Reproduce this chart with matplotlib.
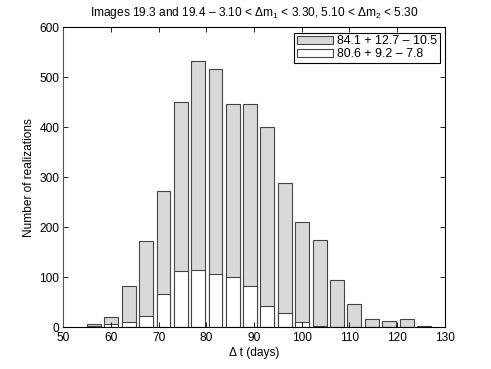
import matplotlib
matplotlib.use("Agg")
import matplotlib.pyplot as plt

plt.rcParams['font.family'] = ['Liberation Sans', 'DejaVu Sans']
plt.rcParams['mathtext.fontset'] = 'custom'
plt.rcParams['mathtext.rm'] = 'Liberation Sans'
plt.rcParams['mathtext.it'] = 'Liberation Sans'
plt.rcParams['font.size'] = 8.6

# bin centres (days) and counts
bin_centers = [56.4, 60.0, 63.7, 67.3, 71.0, 74.6, 78.2, 81.9, 85.5, 89.2,
               92.8, 96.5, 100.1, 103.8, 107.4, 111.0, 114.7, 118.3, 122.0, 125.6]
counts_all = [7, 20, 83, 172, 273, 451, 533, 516, 447, 446,
              401, 289, 211, 174, 94, 46, 16, 13, 16, 2]
counts_sub = [2, 6, 10, 23, 66, 113, 115, 106, 101, 82,
              43, 28, 11, 3, 1, 0, 0, 0, 0, 0]
labels = ['84.1 + 12.7 \u2013 10.5', '80.6 + 9.2 \u2013 7.8']
bar_width = 2.92

fig = plt.figure(figsize=(4.91, 3.69), dpi=100)
ax = fig.add_axes([0.129, 0.113, 0.777, 0.813])

ax.bar(bin_centers, counts_all, width=bar_width, color='#d9d9d9',
       edgecolor='#444444', linewidth=0.8, label=labels[0])
ax.bar(bin_centers, counts_sub, width=bar_width, color='white',
       edgecolor='#444444', linewidth=0.8, label=labels[1])

ax.set_xlim(50, 130)
ax.set_ylim(0, 600)
ax.set_xticks(range(50, 131, 10))
ax.set_yticks(range(0, 601, 100))
ax.tick_params(direction='in', length=3.5, top=True, right=True, width=0.6)
ax.tick_params(axis='x', pad=3.5)
ax.tick_params(axis='y', pad=3)
for s in ax.spines.values():
    s.set_linewidth(0.8)
ax.spines['left'].set_color('#555555')

ax.set_xlabel('\u0394 t (days)', labelpad=2)
ax.set_ylabel('Number of realizations', labelpad=3)
ax.set_title('Images 19.3 and 19.4 \u2013 3.10 < \u0394m$_1$ < 3.30, '
             '5.10 < \u0394m$_2$ < 5.30', fontsize=8.6, pad=8)

leg = ax.legend(loc='upper right', bbox_to_anchor=(0.987, 0.982),
                fancybox=False, framealpha=1, edgecolor='black',
                handlelength=2.9, handleheight=0.7,
                borderaxespad=0, borderpad=0.2, labelspacing=0.1,
                handletextpad=0.38, fontsize=8.9)
leg.get_frame().set_linewidth(0.8)

fig.savefig('out.png', dpi=100)
